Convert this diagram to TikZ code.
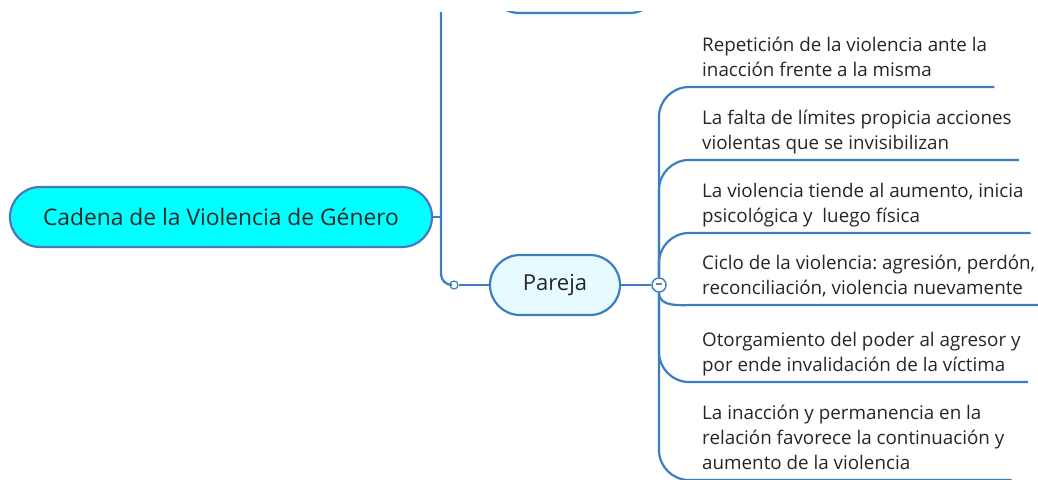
\documentclass[tikz,border=0pt]{standalone}
\usepackage{fontspec}
\setmainfont{Open Sans}
\frenchspacing
\usepackage{tikz}
\usetikzlibrary{positioning}
\definecolor{azul}{HTML}{3B7EC2}
\definecolor{borde}{HTML}{4A78BC}
\definecolor{cian}{HTML}{00FFFF}
\definecolor{celeste}{HTML}{E5FBFF}
\definecolor{texto}{HTML}{262626}

\begin{document}
\begin{tikzpicture}[x=1pt, y=-1pt,
	central/.style={rectangle, draw=borde, fill=cian, rounded corners=30pt, line width=2.2pt, minimum width=422pt, minimum height=60pt, text=texto, font=\fontsize{22.8}{27}\selectfont},
	subtema/.style={rectangle, draw=azul, fill=celeste, rounded corners=30pt, line width=2.2pt, minimum width=130pt, minimum height=60pt, text=texto, font=\fontsize{22}{26}\selectfont},
	idea/.style={anchor=south west, align=left, inner xsep=7pt, inner ysep=10pt, text depth=0pt, text=texto, font=\fontsize{18.8}{25}\selectfont},
	colapso/.style={circle, draw=azul, fill=white, line width=1.4pt, minimum size=14pt, inner sep=0pt},
	punto/.style={circle, draw=azul, fill=white, line width=1.2pt, minimum size=8pt, inner sep=0pt},
	conector/.style={draw=azul, line width=2.2pt}
]
\useasboundingbox (0,0) rectangle (1038,479);

% Top branch, cut off by the edge
\begin{scope}
\clip (0,11) rectangle (1038,479);
\node[subtema, minimum width=170pt] (superior) at (574.5,-17) {};
\end{scope}
\coordinate (cima) at (441,12);

% Central topic
\node[central] (cadena) at (221,217) {Cadena de la Violencia de Género};
\node[subtema] (pareja) at (555,285) {Pareja};
\node[punto] (enlace) at (454,285) {};
\node[colapso] (boton) at (659,285) {\color{gray}\rule[2.5pt]{6pt}{1.5pt}};

\draw[conector] (cadena.east) -- (cadena.east -| cima);
\draw[conector, rounded corners=11pt] (cima) |- (enlace.west);
\draw[conector] (enlace.east) -- (pareja.west);
\draw[conector] (pareja.east) -- (boton.west);

% Ideas of Pareja
\node[idea] (r1) at (695,87) {Repetición de la violencia ante la\\inacción frente a la misma};
\node[idea] (r2) at (695,160) {La falta de límites propicia acciones\\violentas que se invisibilizan};
\node[idea] (r3) at (695,233) {La violencia tiende al aumento, inicia\\psicológica y~ luego física};
\node[idea] (r4) at (695,305) {Ciclo de la violencia: agresión, perdón,\\reconciliación, violencia nuevamente};
\node[idea] (r5) at (695,382) {Otorgamiento del poder al agresor y\\por ende invalidación de la víctima};
\node[idea] (r6) at (695,480) {La inacción y permanencia en la\\relación favorece la continuación y\\aumento de la violencia};

\draw[conector, rounded corners=30pt] (boton.north) |- (r1.south east);
\draw[conector, rounded corners=30pt] (boton.north) |- (r2.south east);
\draw[conector, rounded corners=30pt] (boton.north) |- (r3.south east);
\draw[conector] (boton.south) to[out=-90, in=180] (r4.south west) -- (r4.south east);
\draw[conector, rounded corners=30pt] (boton.south) |- (r5.south east);
\draw[conector, rounded corners=30pt] (boton.south) |- (r6.south east);
\end{tikzpicture}
\end{document}
